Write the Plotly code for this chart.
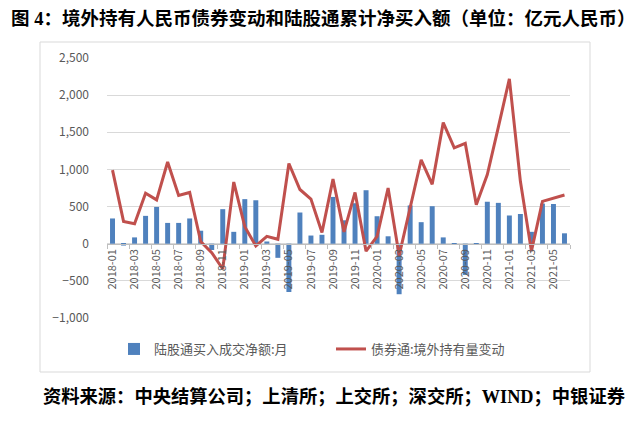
import plotly.graph_objects as go

months = [f"{y}-{m:02d}" for y in (2018, 2019, 2020, 2021) for m in range(1, 13)][:42]

stock_connect = [340, -25, 85, 375, 495, 280, 280, 340, 175, -85, 465, 160,
                 600, 585, 30, -190, -650, 420, 110, 120, 630, 315, 545, 720,
                 370, 100, -680, 515, 290, 505, 85, -15, -420, -15, 565, 550,
                 380, 400, 160, 540, 535, 140]

bond_connect = [990, 300, 270, 680, 590, 1100, 650, 690, 30, -120, -340, 830,
                230, -30, 100, 60, 1080, 730, 600, 150, 870, 160, 690, -100,
                100, 750, -160, 500, 1130, 800, 1630, 1290, 1350, 525, 930, 1570,
                2220, 840, -100, 570, 610, 655]

bar_name = "陆股通买入成交净额:月"
line_name = "债券通:境外持有量变动"
title_text = "图 4：境外持有人民币债券变动和陆股通累计净买入额（单位：亿元人民币）"
source_text = "资料来源：中央结算公司；上清所；上交所；深交所；WIND；中银证券"

fig = go.Figure()
fig.add_trace(go.Bar(x=months, y=stock_connect, name=bar_name,
                     marker=dict(color="#4f81bd", line=dict(width=0))))
fig.add_trace(go.Scatter(x=months, y=bond_connect, name=line_name, mode="lines",
                         line=dict(color="#c0504d", width=3)))

# page has an 8px body margin; positions below are in screenshot coords
OFF = 8
W, H = 640, 426
PL, PR, PT, PB = 107, 570, 58, 318   # plot area in screenshot coords
L = PL - OFF
T = PT - OFF
R = W - (PR - OFF)
B = H - (PB - OFF)
pw, ph = PR - PL, PB - PT

def px(x):
    return (x - PL) / pw

def py(y):
    return (PB - y) / ph

fig.update_layout(
    width=W, height=H,
    margin=dict(l=L, r=R, t=T, b=B, pad=0, autoexpand=False),
    plot_bgcolor="white", paper_bgcolor="white",
    bargap=0.55,
    font=dict(family="Noto Sans CJK SC", color="#595959", size=12),
    showlegend=True,
    legend=dict(orientation="h", x=px(114), y=py(349), xanchor="left", yanchor="middle",
                font=dict(size=13, color="#595959"), bgcolor="rgba(0,0,0,0)",
                itemwidth=30, tracegroupgap=0, entrywidth=172),
    xaxis=dict(type="category", anchor="free", position=1000 / 3500, automargin=False,
               tickangle=-90, dtick=2, tickson="boundaries", ticks="outside", ticklen=4,
               tickcolor="#bfbfbf", showline=True, linecolor="#bfbfbf", linewidth=1,
               showgrid=False, tickfont=dict(size=11, color="#595959", family="Noto Sans CJK SC"),
               range=[-0.5, 41.5]),
    yaxis=dict(range=[-1000, 2500], dtick=500, tickformat=",", showgrid=True, automargin=False,
               gridcolor="#d9d9d9", gridwidth=1, zeroline=False, showline=False,
               ticks="", tickfont=dict(size=12, color="#595959"), ticklabelstandoff=17),
)

fig.add_shape(type="rect", xref="paper", yref="paper",
              x0=px(40), x1=px(590), y0=py(372), y1=py(42),
              line=dict(color="#d9d9d9", width=1), fillcolor="rgba(0,0,0,0)", layer="below")

fig.add_annotation(text="<b>" + title_text + "</b>", xref="paper", yref="paper",
                   x=px(9), y=py(18), xanchor="left", yanchor="middle", showarrow=False,
                   font=dict(size=18.5, color="#000000", family="Liberation Serif, Noto Sans CJK SC"))
fig.add_annotation(text="<b>" + source_text + "</b>", xref="paper", yref="paper",
                   x=px(41), y=py(396), xanchor="left", yanchor="middle", showarrow=False,
                   font=dict(size=18.3, color="#000000", family="Liberation Serif, Noto Sans CJK SC"))

fig.write_html("out.html")
